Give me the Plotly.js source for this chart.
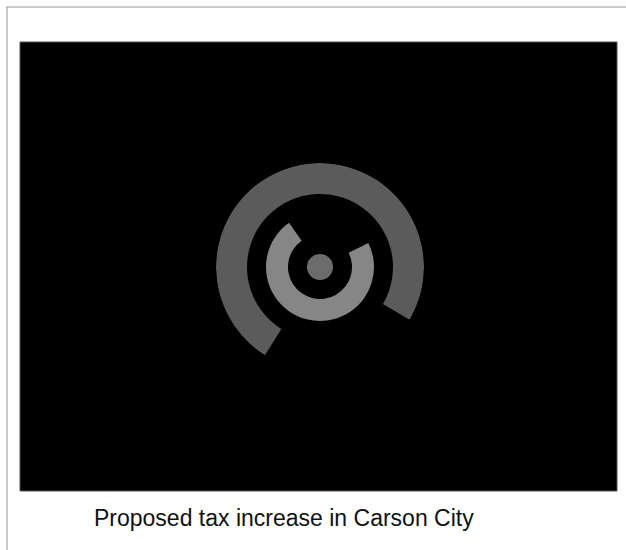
<!DOCTYPE html>
<html>
<head>
<meta charset="utf-8">
<script src="https://cdn.plot.ly/plotly-3.0.1.min.js"></script>
<style>html,body{margin:0;padding:0;background:#fff;}#chart{width:626px;height:550px;}</style>
</head>
<body>
<div id="chart"></div>
<script>
// Data (angles in degrees, clockwise from top)
const ringNames = ["Outer ring", "Inner ring", "Center"];
const ringStart = [-148, 63.5, 0];      // start bearing of each arc
const ringSpan = [268.5, 261.5, 360];   // arc length in degrees
const ringInner = [73, 32, 0];          // inner radius (radial units)
const ringOuter = [104, 54, 13];        // outer radius (radial units)
const ringColors = ["#5b5b5b", "#868686", "#6c6c6c"];
const captionText = "Proposed tax increase in Carson City";

const traces = ringNames.map((name, i) => ({
  type: "barpolar",
  name: name,
  theta: [ringStart[i] + ringSpan[i] / 2],
  r: [ringOuter[i] - ringInner[i]],
  base: [ringInner[i]],
  width: [ringSpan[i]],
  marker: { color: ringColors[i], line: { width: 0 } },
  hoverinfo: "skip"
}));

const W = 626, H = 550;
const cx = 320, cy = 267, R = 104;

const layout = {
  width: W, height: H,
  margin: { l: 0, r: 0, t: 0, b: 0 },
  paper_bgcolor: "#ffffff",
  showlegend: false,
  polar: {
    domain: { x: [(cx - R) / W, (cx + R) / W], y: [(H - cy - R) / H, (H - cy + R) / H] },
    bgcolor: "rgba(0,0,0,0)",
    hole: 0,
    radialaxis: { range: [0, R], visible: false, showgrid: false },
    angularaxis: { rotation: 90, direction: "clockwise", visible: false, showgrid: false, showline: false, ticks: "" },
    bargap: 0
  },
  shapes: [
    { type: "rect", xref: "paper", yref: "paper", layer: "below",
      x0: 20 / W, x1: 617 / W, y0: 1 - 491 / H, y1: 1 - 42 / H,
      fillcolor: "#000000", line: { width: 1, color: "#555555" } },
    { type: "line", xref: "paper", yref: "paper", layer: "below",
      x0: 6 / W, x1: 1, y0: 1 - 7 / H, y1: 1 - 7 / H, line: { width: 1, color: "#9a9a9a" } },
    { type: "line", xref: "paper", yref: "paper", layer: "below",
      x0: 7 / W, x1: 7 / W, y0: 0, y1: 1 - 7 / H, line: { width: 1, color: "#9a9a9a" } }
  ],
  annotations: [
    { text: captionText, xref: "paper", yref: "paper", x: 92 / W, y: 1 - 518 / H,
      xanchor: "left", yanchor: "middle", showarrow: false,
      font: { family: "Liberation Sans, Arial, sans-serif", size: 23, color: "#111111" } }
  ]
};

Plotly.newPlot("chart", traces, layout, { displayModeBar: false, staticPlot: true });
</script>
</body>
</html>
